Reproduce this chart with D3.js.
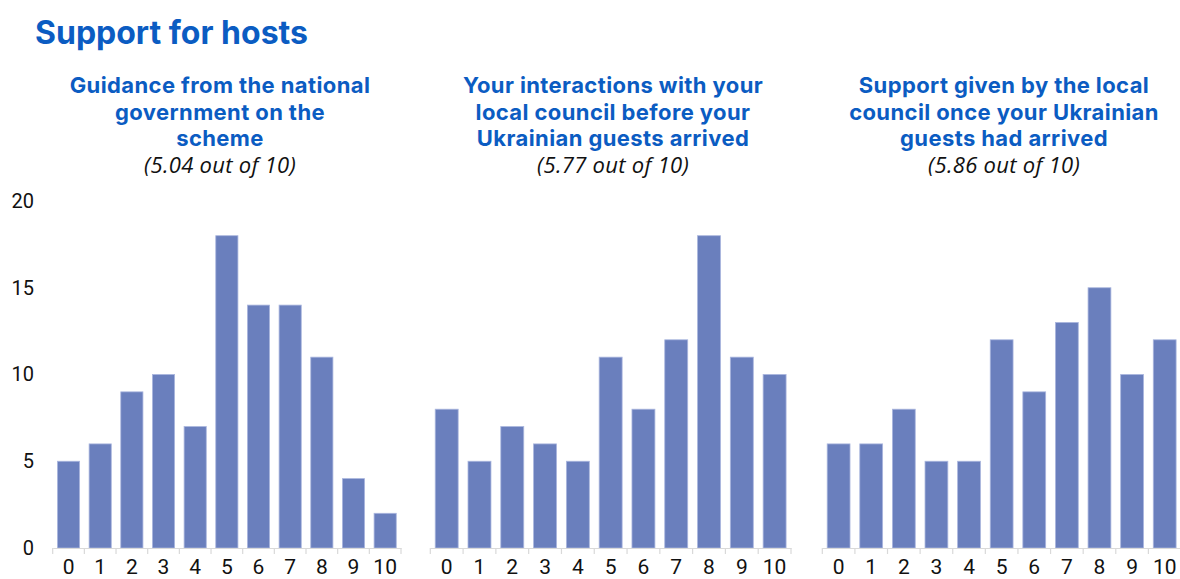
<!DOCTYPE html>
<html>
<head>
<meta charset="utf-8">
<script src="https://cdn.jsdelivr.net/npm/d3@7"></script>
<style>
  body { margin: 0; background: #fff; }
  svg { display: block; }
  .title { font-family: Inter, "Open Sans", sans-serif; font-weight: 700; fill: #0b5cc2; }
  .sub { font-family: Inter, "Open Sans", sans-serif; font-weight: 700; fill: #0b5cc2; letter-spacing: 0.4px; }
  .score { font-family: "Open Sans", sans-serif; font-style: italic; fill: #111; letter-spacing: 0.3px; }
  .tick text { font-family: Roboto, sans-serif; fill: #111; }
</style>
</head>
<body>
<svg id="chart" width="1180" height="579"></svg>
<script>
// scores 0..10
const scores = ["0","1","2","3","4","5","6","7","8","9","10"];

const guidanceVals = [5, 6, 9, 10, 7, 18, 14, 14, 11, 4, 2];
const beforeVals = [8, 5, 7, 6, 5, 11, 8, 12, 18, 11, 10];
const afterVals = [6, 6, 8, 5, 5, 12, 9, 13, 15, 10, 12];

const panelTitles = [
    ["Guidance from the national", "government on the", "scheme"],
    ["Your interactions with your", "local council before your", "Ukrainian guests arrived"],
    ["Support given by the local", "council once your Ukrainian", "guests had arrived"]
];
const panelScores = ["(5.04 out of 10)", "(5.77 out of 10)", "(5.86 out of 10)"];
const yTicks = [0, 5, 10, 15, 20];

const svg = d3.select("#chart");

svg.append("text")
    .attr("class", "title")
    .attr("x", 35)
    .attr("y", 44)
    .attr("font-size", 32)
    .text("Support for hosts");

let y = d3.scaleLinear()
    .domain([0, 20])
    .range([548, 201]);

// y labels only on the left, no axis line
let yAxis = d3.axisLeft(y).tickValues(yTicks).tickSize(0).tickPadding(0);
let yG = svg.append("g")
    .attr("transform", "translate(34,0)")
    .call(yAxis);
yG.select(".domain").remove();
yG.selectAll("text").attr("font-size", 20);

let panels = [
    {vals: guidanceVals, x0: 52.7, x1: 401, cx: 220},
    {vals: beforeVals, x0: 430.3, x1: 791, cx: 613},
    {vals: afterVals, x0: 822.3, x1: 1181, cx: 1004}
];

panels.forEach((p, i) => {
    let x = d3.scaleBand()
        .domain(scores)
        .range([p.x0, p.x1])
        .paddingInner(0.3)
        .paddingOuter(0.15);

    let g = svg.append("g");

    g.selectAll("rect")
        .data(p.vals)
        .enter().append("rect")
        .attr("x", (d, j) => x(scores[j]))
        .attr("y", d => y(d))
        .attr("width", x.bandwidth())
        .attr("height", d => y(0) - y(d))
        .attr("fill", "#6a7fbd")
        .attr("stroke", "#aab6de")
        .attr("stroke-width", 0.8);

    // axis line, tick marks drawn at band edges below
    let xAxis = d3.axisBottom(x).tickSize(0).tickPadding(0);
    let xg = g.append("g")
        .attr("transform", "translate(0,548)")
        .call(xAxis);
    xg.select(".domain").attr("stroke", "#d9d9d9").attr("stroke-width", 1.2);
    xg.selectAll("text").attr("font-size", 21).attr("y", 26).attr("dy", 0);

    let edges = d3.range(12).map(k => p.x0 + k * (p.x1 - p.x0) / 11);
    g.selectAll(".edge")
        .data(edges)
        .enter().append("line")
        .attr("x1", d => d).attr("x2", d => d)
        .attr("y1", 548).attr("y2", 554)
        .attr("stroke", "#d9d9d9")
        .attr("stroke-width", 1.2);

    let t = g.append("text")
        .attr("class", "sub")
        .attr("text-anchor", "middle")
        .attr("font-size", 22);
    panelTitles[i].forEach((line, k) => {
        t.append("tspan")
            .attr("x", p.cx)
            .attr("y", 93 + k * 26.5)
            .text(line);
    });

    g.append("text")
        .attr("class", "score")
        .attr("text-anchor", "middle")
        .attr("x", p.cx)
        .attr("y", 173)
        .attr("font-size", 22)
        .text(panelScores[i]);
});
</script>
</body>
</html>
